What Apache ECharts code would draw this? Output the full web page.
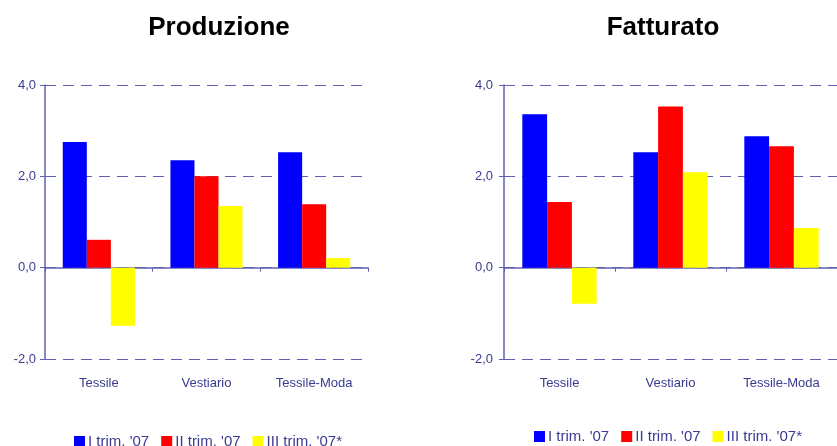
<!DOCTYPE html>
<html>
<head>
<meta charset="utf-8">
<script src="https://cdn.jsdelivr.net/npm/echarts@6/dist/echarts.min.js"></script>
<style>
  html, body { margin: 0; padding: 0; background: #fff; }
  #chart { width: 837px; height: 446px; }
</style>
</head>
<body>
<div id="chart"></div>
<script>
// dati
const categories = ["Tessile", "Vestiario", "Tessile-Moda"];
const seriesNames = ["I trim. '07", "II trim. '07", "III trim. '07*"];
const produzioneI = [2.75, 2.35, 2.53];
const produzioneII = [0.61, 2.0, 1.39];
const produzioneIII = [-1.27, 1.35, 0.21];
const fatturatoI = [3.36, 2.53, 2.88];
const fatturatoII = [1.44, 3.53, 2.66];
const fatturatoIII = [-0.79, 2.09, 0.87];
const colors = ["#0000ff", "#ff0000", "#ffff00"];

const textColor = "#3a3a90";
const lineColor = "#6060b0";
const font = "'Liberation Sans', Arial, sans-serif";

function fmt(v) {
  return v.toFixed(1).replace(".", ",");
}

// assi per ogni pannello
function xAxes(grid) {
  return [
    {
      // linea dello zero con le tacche
      type: "category", gridIndex: grid, data: categories,
      axisLine: { onZero: true, lineStyle: { color: lineColor, width: 1.5 } },
      axisTick: { show: true, length: 4, lineStyle: { color: lineColor } },
      axisLabel: { show: false },
      splitLine: { show: false }
    },
    {
      // etichette in basso
      type: "category", gridIndex: grid, data: categories, position: "bottom",
      axisLine: { show: false, onZero: false },
      axisTick: { show: false },
      axisLabel: { color: textColor, fontSize: 13, fontFamily: font, margin: 18 },
      splitLine: { show: false }
    }
  ];
}

function yAxis(grid, margin) {
  return {
    type: "value", gridIndex: grid, min: -2, max: 4, interval: 2,
    axisLine: { show: true, lineStyle: { color: lineColor, width: 1.5 } },
    axisTick: { show: true, length: 5, lineStyle: { color: lineColor } },
    axisLabel: { color: textColor, fontSize: 13, fontFamily: font, margin: margin, formatter: fmt },
    splitLine: { show: true, lineStyle: { color: lineColor, type: [11, 7], width: 1 } }
  };
}

function bars(grid, data) {
  return data.map((d, i) => ({
    name: seriesNames[i],
    type: "bar",
    xAxisIndex: grid * 2,
    yAxisIndex: grid,
    data: d,
    barGap: "0%",
    barCategoryGap: "33%",
    itemStyle: { color: colors[i] },
    emphasis: { disabled: true }
  }));
}

function legend(left, top) {
  return {
    data: seriesNames, left: left, top: top,
    itemWidth: 11, itemHeight: 11, itemGap: 12,
    icon: "rect",
    textStyle: { color: textColor, fontSize: 15, fontFamily: font, padding: [0, 0, 0, -2] }
  };
}

const chart = echarts.init(document.getElementById("chart"));
chart.setOption({
  animation: false,
  color: colors,
  title: [
    { text: "Produzione", left: 214, top: 10, textAlign: "center",
      textStyle: { fontSize: 26, fontWeight: "bold", color: "#000", fontFamily: font } },
    { text: "Fatturato", left: 658, top: 10, textAlign: "center",
      textStyle: { fontSize: 26, fontWeight: "bold", color: "#000", fontFamily: font } }
  ],
  legend: [legend(69, 429), legend(529, 424)],
  grid: [
    { left: 45, top: 85, width: 323, height: 274 },
    { left: 504, top: 85, width: 341, height: 274 }
  ],
  xAxis: xAxes(0).concat(xAxes(1)),
  yAxis: [yAxis(0, 9), yAxis(1, 11)],
  series: bars(0, [produzioneI, produzioneII, produzioneIII])
    .concat(bars(1, [fatturatoI, fatturatoII, fatturatoIII]))
});
</script>
</body>
</html>
